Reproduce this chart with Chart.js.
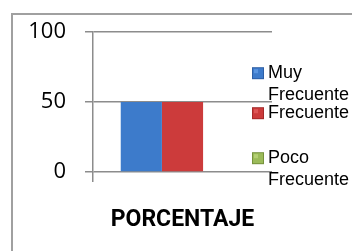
<!DOCTYPE html>
<html>
<head>
<meta charset="utf-8">
<style>
html,body{margin:0;padding:0;background:#fff;}
#wrap{width:352px;height:251px;position:relative;}
</style>
<script src="https://cdn.jsdelivr.net/npm/chart.js@4/dist/chart.umd.min.js"></script>
</head>
<body>
<div id="wrap"><canvas id="c" width="352" height="251"></canvas></div>
<script>
const categories = ['PORCENTAJE'];
const seriesNames = ['Muy Frecuente', 'Frecuente', 'Poco Frecuente'];
const muyFrecuente = [50];
const frecuente = [50];
const pocoFrecuente = [0];
const yTicks = [0, 50, 100];

const baseColors = ['#3d7bcb', '#cc3b3b', '#9bbb59'];
const edgeColors = ['#2d5fa5', '#a42a2a', '#76923c'];
const lightColors = ['#5a95e0', '#de5656', '#b5d074'];

function barFill(i) {
  return function(ctx) {
    const chart = ctx.chart;
    const el = ctx.element;
    if (!el || !chart.chartArea) return baseColors[i];
    const props = el.getProps(['x', 'width'], true);
    const x0 = props.x - props.width / 2, x1 = props.x + props.width / 2;
    if (!isFinite(x0) || !isFinite(x1) || x1 <= x0) return baseColors[i];
    const g = chart.ctx.createLinearGradient(x0, 0, x1, 0);
    g.addColorStop(0, edgeColors[i]);
    g.addColorStop(0.12, lightColors[i]);
    g.addColorStop(0.5, baseColors[i]);
    g.addColorStop(0.88, baseColors[i]);
    g.addColorStop(1, edgeColors[i]);
    return g;
  };
}

const frame = {
  id: 'frame',
  beforeDraw(chart) {
    const c = chart.ctx;
    c.save();
    c.fillStyle = '#fff';
    c.fillRect(0, 0, chart.width, chart.height);
    c.strokeStyle = '#a0a0a0';
    c.lineWidth = 2;
    c.strokeRect(12, 14, 400, 300);
    c.restore();
  }
};

const customLegend = {
  id: 'customLegend',
  afterDraw(chart) {
    const c = chart.ctx;
    const top = chart.chartArea.top;
    const offsets = [41, 81, 126];
    c.save();
    c.font = '18px "Liberation Sans", Arial, sans-serif';
    c.textBaseline = 'middle';
    c.textAlign = 'left';
    chart.data.datasets.forEach((ds, i) => {
      const lines = ds.label.split(' ');
      const y = top + offsets[i];
      c.fillStyle = edgeColors[i];
      c.fillRect(252, y - 6, 12, 12);
      c.fillStyle = baseColors[i];
      c.fillRect(253, y - 5, 10, 10);
      c.fillStyle = lightColors[i];
      c.fillRect(254, y - 4, 4, 4);
      c.fillStyle = '#000';
      lines.forEach((ln, k) => {
        c.fillText(ln, 268, y + k * 22);
      });
    });
    c.restore();
  }
};

new Chart(document.getElementById('c'), {
  type: 'bar',
  data: {
    labels: categories,
    datasets: [
      { label: seriesNames[0], data: muyFrecuente, backgroundColor: barFill(0) },
      { label: seriesNames[1], data: frecuente, backgroundColor: barFill(1) },
      { label: seriesNames[2], data: pocoFrecuente, backgroundColor: barFill(2) }
    ]
  },
  options: {
    responsive: false,
    animation: false,
    devicePixelRatio: 1,
    layout: { padding: { top: 20, right: 80, left: 0, bottom: 0 } },
    datasets: { bar: { categoryPercentage: 0.69, barPercentage: 1.0, borderWidth: 0 } },
    plugins: { legend: { display: false }, tooltip: { enabled: false } },
    scales: {
      y: {
        min: 0, max: 100,
        afterBuildTicks(scale) { scale.ticks = yTicks.map(v => ({ value: v })); },
        afterFit(scale) { scale.width = 93; },
        border: { display: true, color: '#8c8c8c', width: 1.5 },
        grid: { color: '#8c8c8c', lineWidth: 1.5, tickLength: 8, drawTicks: true },
        ticks: {
          color: '#000',
          padding: 19,
          font: { family: '"Open Sans", sans-serif', size: 22 }
        }
      },
      x: {
        offset: true,
        afterFit(scale) { scale.height = 79; },
        border: { display: false },
        grid: {
          offset: true,
          color: ctx => ctx.index === 0 ? '#8c8c8c' : 'rgba(0,0,0,0)',
          lineWidth: 1.5,
          tickLength: 10,
          drawOnChartArea: false
        },
        ticks: {
          color: '#000',
          padding: 24,
          font: { family: 'Roboto, "Open Sans", sans-serif', size: 23, weight: 'bold' }
        }
      }
    }
  },
  plugins: [frame, customLegend]
});
</script>
</body>
</html>
